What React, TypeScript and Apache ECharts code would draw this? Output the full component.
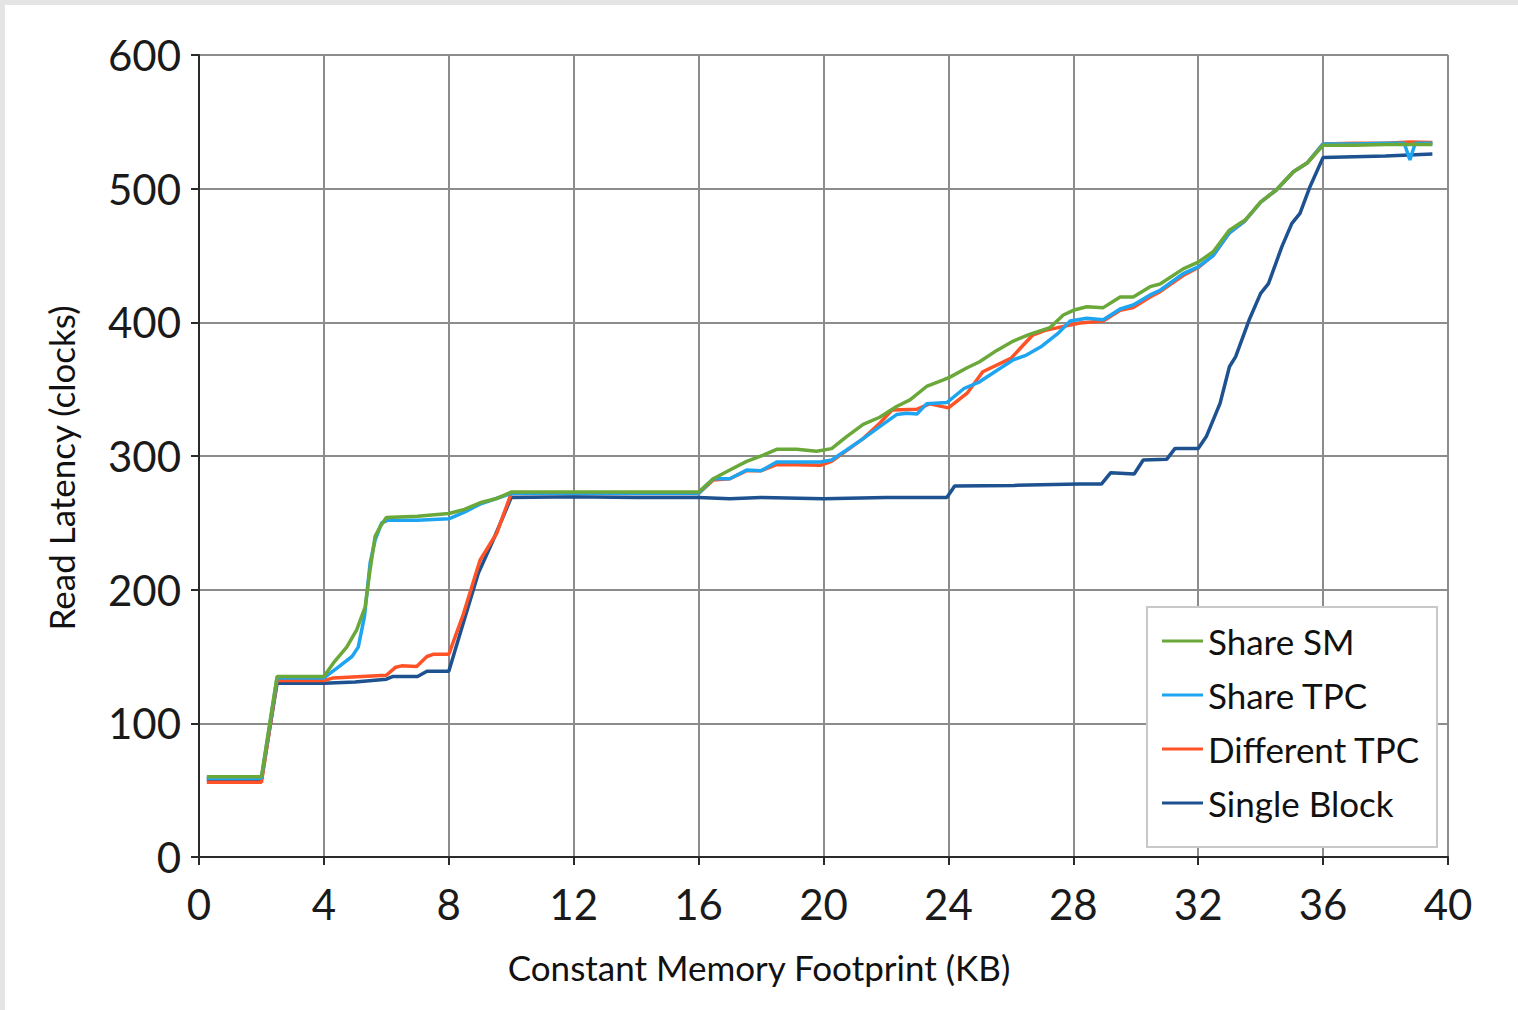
import React, { useEffect, useRef } from "react";
import * as echarts from "echarts";

// X ticks (KB) and Y ticks (clocks)
const xTicks = [0, 4, 8, 12, 16, 20, 24, 28, 32, 36, 40];
const yTicks = [0, 100, 200, 300, 400, 500, 600];

const seriesNames = ["Share SM", "Share TPC", "Different TPC", "Single Block"];

// Share SM
const xSM = [0.25, 2.0, 2.5, 4.0, 4.3, 4.73, 5.05, 5.32, 5.48, 5.64, 5.8, 6.0, 7.0, 8.0, 8.5, 9.0, 9.5, 10.0, 12, 14, 16, 16.47, 17.0, 17.54, 18.07, 18.5, 19.14, 19.78, 20.26, 20.74, 21.27, 21.8, 22.34, 22.77, 23.3, 23.84, 24.05, 24.6, 25.0, 25.55, 26.08, 26.6, 27.25, 27.68, 28.0, 28.43, 28.96, 29.5, 29.92, 30.46, 30.78, 31.52, 32.0, 32.48, 33.0, 33.5, 34.0, 34.5, 35.05, 35.5, 36.0, 37, 38, 39.5];
const ySM = [60, 60, 135, 135, 145, 157, 170, 187, 215, 240, 247, 254, 255, 257, 260, 265, 268, 273, 273, 273, 273, 283, 289.5, 296, 300.7, 305, 305, 303.5, 305.5, 314.5, 323.7, 329, 337, 342, 352, 357, 359, 366, 370.5, 379, 386, 391, 396, 405.5, 409, 411.7, 411, 419, 419, 426.7, 428.7, 440, 445, 452.8, 469, 476.5, 490, 499, 512.7, 519.4, 532.5, 532.5, 533, 533];

// Share TPC
const xTPC = [0.25, 2.0, 2.5, 4.0, 4.46, 4.9, 5.1, 5.3, 5.48, 5.64, 5.85, 6.05, 7.0, 8.0, 8.5, 9.0, 9.5, 10.0, 12, 14, 16, 16.47, 17.0, 17.54, 18.0, 18.5, 19.14, 19.9, 20.26, 20.74, 21.27, 21.8, 22.34, 22.66, 23.0, 23.3, 23.95, 24.5, 25.0, 25.55, 26.08, 26.5, 26.95, 27.5, 27.9, 28.43, 28.96, 29.5, 29.92, 30.46, 30.78, 31.52, 32.0, 32.48, 33.0, 33.5, 34.0, 34.5, 35.05, 35.5, 36.0, 37, 38, 38.6, 38.78, 38.95, 39.5];
const yTPC = [59, 59, 134, 134, 142, 150, 157, 180, 220, 237, 250, 252, 252, 253, 258, 264, 268, 272, 272, 272, 272, 283, 283, 289.5, 289, 295.5, 295.5, 295.5, 297, 304.5, 313, 322, 331, 332, 331.5, 339, 340, 350.5, 355.5, 364, 372, 375.5, 381.5, 391.5, 401, 403, 402, 410, 413, 420.5, 424, 436.5, 441.5, 450, 467, 476, 490, 499, 512.7, 519.4, 533.5, 533.5, 534, 534, 521.5, 534, 534];

// Different TPC
const xDiff = [0.25, 2.0, 2.5, 4.0, 4.3, 6.0, 6.3, 6.49, 6.97, 7.3, 7.5, 8.0, 8.47, 9.0, 9.53, 10.0, 12, 14, 16, 16.47, 17.0, 17.54, 18.0, 18.5, 19.14, 19.9, 20.26, 20.74, 21.27, 21.8, 22.2, 23.0, 23.4, 24.0, 24.6, 25.1, 26.0, 26.7, 27.1, 28.2, 28.96, 29.5, 29.92, 30.46, 30.78, 31.52, 32.0, 32.48, 33.0, 33.5, 34.0, 34.5, 35.05, 35.5, 36.0, 37, 38, 38.8, 39.5];
const yDiff = [56, 56, 132, 132, 134, 136, 142, 143, 142.5, 150, 151.6, 151.6, 182, 222, 242, 272, 272, 272, 272, 282, 283, 289, 289, 293.5, 293.5, 293, 296, 304, 313, 324.5, 334.5, 335, 339, 336, 347, 363, 373, 390.5, 394, 399.5, 401, 409, 411, 419, 423, 435, 441, 450, 467, 476, 490, 499, 512.7, 519.4, 533.5, 534, 534, 535, 534.5];

// Single Block
const xSingle = [0.25, 2.0, 2.5, 4.0, 5.0, 6.0, 6.2, 7.0, 7.3, 8.0, 8.36, 8.94, 9.42, 10.0, 12, 14, 16, 17, 18, 20, 22, 23.95, 24.2, 26.1, 28.2, 28.9, 29.2, 29.95, 30.24, 30.99, 31.26, 32.0, 32.26, 32.7, 33.0, 33.2, 33.63, 34.0, 34.25, 34.68, 35.0, 35.26, 35.58, 36.0, 38, 39.5];
const ySingle = [58, 58, 130, 130, 131, 133, 135, 135, 139, 139, 167, 212, 237, 269, 269.5, 269, 269, 268, 269, 268, 269, 269, 277.5, 278, 279, 279, 287.5, 286.5, 297, 297.5, 305.7, 305.7, 314.5, 339.4, 366.8, 374.3, 401.7, 421.7, 429, 456.6, 474, 481.5, 501.5, 523.4, 524.5, 526];

const colors = {
  "Share SM": "#6aa83a",
  "Share TPC": "#1ea5f2",
  "Different TPC": "#ff5226",
  "Single Block": "#1d5190",
};

const zip = (xs: number[], ys: number[]) => xs.map((x, i) => [x, ys[i]]);

const FONT = "Lato, 'Open Sans', sans-serif";

export default function App() {
  const ref = useRef<HTMLDivElement>(null);
  useEffect(() => {
    document.body.style.margin = "0";
    const chart = echarts.init(ref.current!, null, { renderer: "svg" });
    const mk = (name: string, xs: number[], ys: number[]) => ({
      name,
      type: "line",
      data: zip(xs, ys),
      showSymbol: false,
      symbol: "none",
      lineStyle: { width: 3.5, color: (colors as any)[name] },
      itemStyle: { color: (colors as any)[name] },
    });
    chart.setOption({
      animation: false,
      backgroundColor: "#ffffff",
      textStyle: { fontFamily: FONT },
      grid: { left: 199, right: 70, top: 55, bottom: 153, containLabel: false },
      xAxis: {
        type: "value",
        min: xTicks[0],
        max: xTicks[xTicks.length - 1],
        interval: 4,
        axisLine: { show: true, lineStyle: { color: "#2a2a2a", width: 2 } },
        axisTick: { show: true, length: 8, lineStyle: { color: "#2a2a2a", width: 2 } },
        axisLabel: { fontSize: 42, color: "#1a1a1a", margin: 26, fontFamily: FONT },
        splitLine: { show: true, lineStyle: { color: "#8c8c8c", width: 2 } },
      },
      yAxis: {
        type: "value",
        min: yTicks[0],
        max: yTicks[yTicks.length - 1],
        interval: 100,
        axisLine: { show: true, lineStyle: { color: "#2a2a2a", width: 2 } },
        axisTick: { show: true, length: 8, lineStyle: { color: "#2a2a2a", width: 2 } },
        axisLabel: { fontSize: 42, color: "#1a1a1a", margin: 18, fontFamily: FONT },
        splitLine: { show: true, lineStyle: { color: "#8c8c8c", width: 2 } },
      },
      legend: {
        data: seriesNames,
        orient: "vertical",
        left: 1162,
        top: 621,
        icon: "rect",
        itemWidth: 41,
        itemHeight: 3,
        itemGap: 14,
        itemTextGap: 8,
        itemStyle: { borderWidth: 0 },
        textStyle: { fontSize: 35, lineHeight: 40, color: "#111", fontFamily: FONT },
        padding: 0,
        z: 10,
      },
      graphic: [
        { type: "rect", shape: { x: 0, y: 0, width: 1518, height: 5 }, style: { fill: "#e4e4e4" }, z: 1 },
        { type: "rect", shape: { x: 0, y: 0, width: 5, height: 1010 }, style: { fill: "#e4e4e4" }, z: 1 },
        {
          type: "rect",
          shape: { x: 1147, y: 607, width: 290, height: 240 },
          style: { fill: "#ffffff", stroke: "#c8c8c8", lineWidth: 2 },
          z: 5,
        },
        {
          type: "text",
          x: 759,
          y: 967,
          style: { text: "Constant Memory Footprint (KB)", fontSize: 35, fontFamily: FONT, fill: "#111", align: "center", verticalAlign: "middle" },
          z: 6,
        },
        {
          type: "text",
          x: 61,
          y: 468,
          rotation: Math.PI / 2,
          style: { text: "Read Latency (clocks)", fontSize: 35, fontFamily: FONT, fill: "#111", align: "center", verticalAlign: "middle" },
          z: 6,
        },
      ],
      series: [
        mk("Single Block", xSingle, ySingle),
        mk("Different TPC", xDiff, yDiff),
        mk("Share TPC", xTPC, yTPC),
        mk("Share SM", xSM, ySM),
      ],
    });
    return () => chart.dispose();
  }, []);
  return <div ref={ref} style={{ position: "fixed", left: 0, top: 0, width: 1518, height: 1010 }} />;
}
